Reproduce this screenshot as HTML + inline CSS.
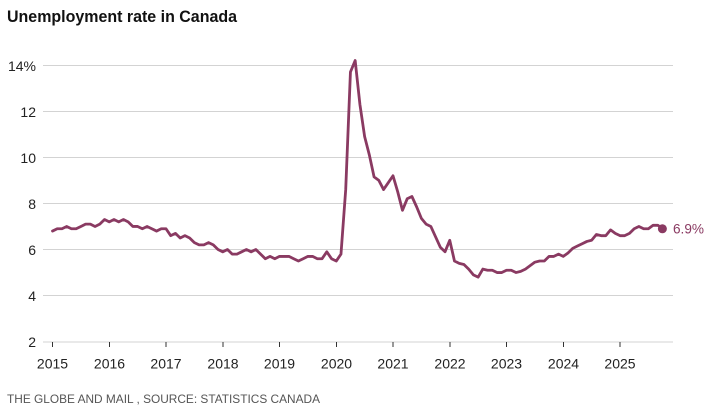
<!DOCTYPE html>
<html>
<head>
<meta charset="utf-8">
<style>
  html,body{margin:0;padding:0;background:#fff;}
  body{width:722px;height:412px;overflow:hidden;}
  svg{display:block;font-family:"Liberation Sans",sans-serif;}
</style>
</head>
<body>
<svg width="722" height="412" viewBox="0 0 722 412" xmlns="http://www.w3.org/2000/svg">
  <rect width="722" height="412" fill="#fff"/>
  <!-- Title -->
  <text x="7" y="22" font-size="17" font-weight="bold" fill="#111" textLength="230" lengthAdjust="spacingAndGlyphs">Unemployment rate in Canada</text>

  <!-- Gridlines -->
  <g stroke="#d3d3d3" stroke-width="1">
    <line x1="43" x2="673" y1="65.5" y2="65.5"/>
    <line x1="43" x2="673" y1="111.5" y2="111.5"/>
    <line x1="43" x2="673" y1="157.5" y2="157.5"/>
    <line x1="43" x2="673" y1="203.5" y2="203.5"/>
    <line x1="43" x2="673" y1="249.5" y2="249.5"/>
    <line x1="43" x2="673" y1="295.5" y2="295.5"/>
    <line x1="43" x2="673" y1="342" y2="342"/>
  </g>

  <!-- Y labels -->
  <g font-size="14" fill="#222" text-anchor="end">
    <text x="36" y="71">14%</text>
    <text x="36" y="117">12</text>
    <text x="36" y="163">10</text>
    <text x="36" y="209">8</text>
    <text x="36" y="255">6</text>
    <text x="36" y="301">4</text>
    <text x="36" y="347">2</text>
  </g>

  <!-- X ticks -->
  <g stroke="#333" stroke-width="1">
    <line x1="52.5" x2="52.5" y1="342" y2="347"/>
    <line x1="109.5" x2="109.5" y1="342" y2="347"/>
    <line x1="166" x2="166" y1="342" y2="347"/>
    <line x1="223" x2="223" y1="342" y2="347"/>
    <line x1="279.5" x2="279.5" y1="342" y2="347"/>
    <line x1="336.5" x2="336.5" y1="342" y2="347"/>
    <line x1="393" x2="393" y1="342" y2="347"/>
    <line x1="450" x2="450" y1="342" y2="347"/>
    <line x1="506.5" x2="506.5" y1="342" y2="347"/>
    <line x1="563.5" x2="563.5" y1="342" y2="347"/>
    <line x1="620" x2="620" y1="342" y2="347"/>
  </g>

  <!-- X labels -->
  <g font-size="14" fill="#222" text-anchor="middle">
    <text x="52.5" y="368.5">2015</text>
    <text x="109.5" y="368.5">2016</text>
    <text x="166" y="368.5">2017</text>
    <text x="223" y="368.5">2018</text>
    <text x="279.5" y="368.5">2019</text>
    <text x="336.5" y="368.5">2020</text>
    <text x="393" y="368.5">2021</text>
    <text x="450" y="368.5">2022</text>
    <text x="506.5" y="368.5">2023</text>
    <text x="563.5" y="368.5">2024</text>
    <text x="620" y="368.5">2025</text>
  </g>

  <!-- Data line -->
  <g transform="translate(52.5,387.8) scale(4.7292,-23.05)">
    <polyline fill="none" stroke="#8a3a62" stroke-width="2.8" stroke-linejoin="round" stroke-linecap="round" vector-effect="non-scaling-stroke"
      points="0,6.8 1,6.9 2,6.9 3,7.0 4,6.9 5,6.9 6,7.0 7,7.1 8,7.1 9,7.0 10,7.1 11,7.3
              12,7.2 13,7.3 14,7.2 15,7.3 16,7.2 17,7.0 18,7.0 19,6.9 20,7.0 21,6.9 22,6.8 23,6.9
              24,6.9 25,6.6 26,6.7 27,6.5 28,6.6 29,6.5 30,6.3 31,6.2 32,6.2 33,6.3 34,6.2 35,6.0
              36,5.9 37,6.0 38,5.8 39,5.8 40,5.9 41,6.0 42,5.9 43,6.0 44,5.8 45,5.6 46,5.7 47,5.6
              48,5.7 49,5.7 50,5.7 51,5.6 52,5.5 53,5.6 54,5.7 55,5.7 56,5.6 57,5.6 58,5.9 59,5.6
              60,5.5 61,5.8 62,8.6 63,13.7 64,14.2 65,12.3 66,10.9 67,10.1 68,9.15 69,9.0 70,8.6 71,8.9
              72,9.2 73,8.5 74,7.7 75,8.2 76,8.3 77,7.85 78,7.35 79,7.1 80,7.0 81,6.55 82,6.1 83,5.9
              84,6.4 85,5.5 86,5.4 87,5.35 88,5.15 89,4.9 90,4.8 91,5.15 92,5.1 93,5.1 94,5.0 95,5.0
              96,5.1 97,5.1 98,5.0 99,5.05 100,5.15 101,5.3 102,5.45 103,5.5 104,5.5 105,5.7 106,5.7 107,5.8
              108,5.7 109,5.85 110,6.05 111,6.15 112,6.25 113,6.35 114,6.4 115,6.65 116,6.6 117,6.6 118,6.85 119,6.7
              120,6.6 121,6.6 122,6.7 123,6.9 124,7.0 125,6.9 126,6.9 127,7.05 128,7.05 129,6.9"/>
  </g>

  <!-- End dot & label -->
  <circle cx="662.4" cy="228.8" r="4.5" fill="#8a3a62"/>
  <text x="673" y="233.5" font-size="14" fill="#8a3a62" textLength="31" lengthAdjust="spacingAndGlyphs">6.9%</text>

  <!-- Footer -->
  <text x="7" y="403" font-size="12" fill="#555" textLength="313" lengthAdjust="spacingAndGlyphs">THE GLOBE AND MAIL , SOURCE: STATISTICS CANADA</text>
</svg>
</body>
</html>
